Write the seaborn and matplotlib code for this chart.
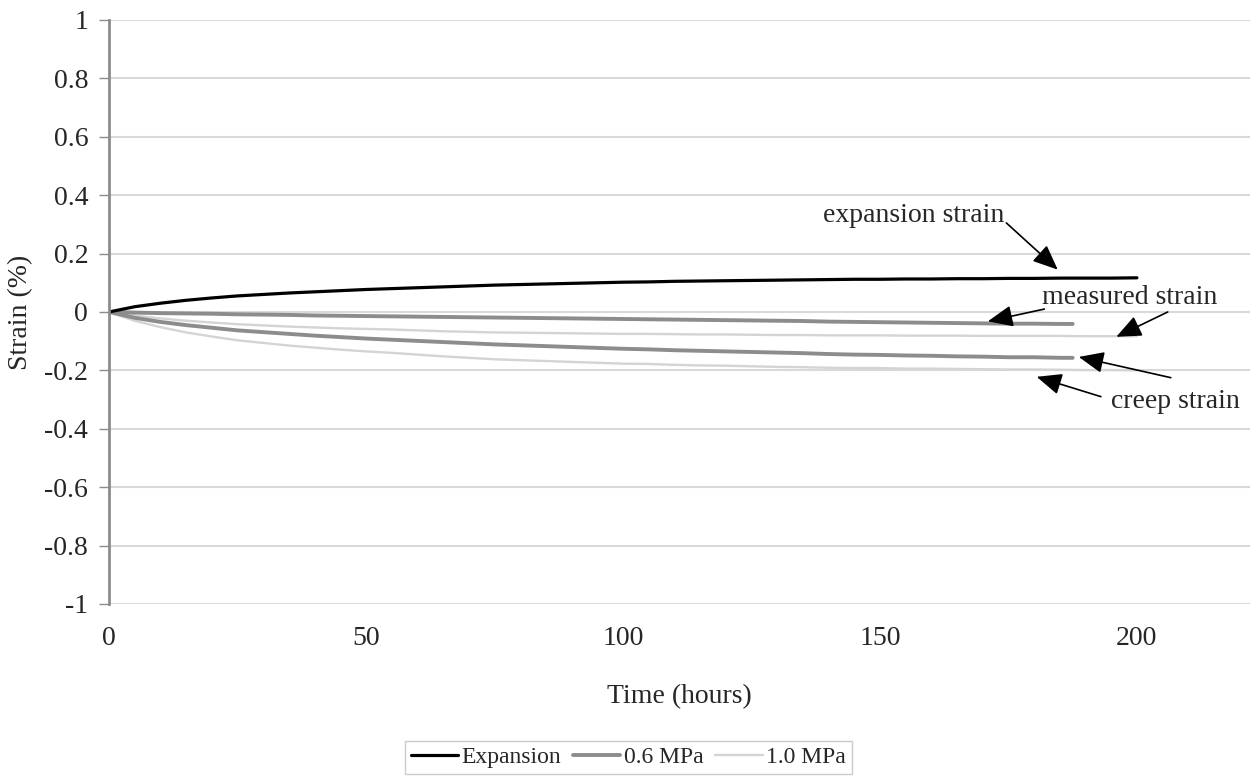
import pandas as pd
import numpy as np
import matplotlib
matplotlib.use("Agg")
import matplotlib.pyplot as plt
import seaborn as sns

# data (strain in %, time in hours)
t_long = [0, 5, 10, 15, 20, 25, 30, 35, 40, 45, 50, 55, 60, 65, 70, 75, 80, 85, 90, 95,
          100, 105, 110, 115, 120, 125, 130, 135, 140, 145, 150, 155, 160, 165, 170, 175,
          180, 185, 190, 195, 200]
t_short = [0, 5, 10, 15, 20, 25, 30, 35, 40, 45, 50, 55, 60, 65, 70, 75, 80, 85, 90, 95,
           100, 105, 110, 115, 120, 125, 130, 135, 140, 145, 150, 155, 160, 165, 170, 175,
           180, 185, 187.5]

expansion = [0, 0.018, 0.030, 0.040, 0.048, 0.055, 0.060, 0.065, 0.069, 0.073, 0.077,
             0.080, 0.083, 0.086, 0.089, 0.092, 0.094, 0.096, 0.098, 0.100, 0.102, 0.103,
             0.105, 0.106, 0.107, 0.108, 0.109, 0.110, 0.111, 0.112, 0.112, 0.113, 0.113,
             0.114, 0.114, 0.115, 0.115, 0.116, 0.116, 0.116, 0.117]

mpa06_measured = [0, -0.002, -0.004, -0.005, -0.006, -0.008, -0.009, -0.010, -0.012, -0.013,
                  -0.014, -0.015, -0.016, -0.017, -0.018, -0.019, -0.020, -0.021, -0.022,
                  -0.023, -0.024, -0.025, -0.026, -0.027, -0.028, -0.029, -0.030, -0.031,
                  -0.033, -0.034, -0.035, -0.036, -0.037, -0.038, -0.039, -0.040, -0.040,
                  -0.041, -0.041]
mpa06_creep = [0, -0.020, -0.034, -0.045, -0.054, -0.063, -0.069, -0.075, -0.081, -0.086,
               -0.091, -0.095, -0.099, -0.103, -0.107, -0.111, -0.114, -0.117, -0.120,
               -0.123, -0.126, -0.128, -0.131, -0.133, -0.135, -0.137, -0.139, -0.141,
               -0.144, -0.146, -0.147, -0.149, -0.150, -0.152, -0.153, -0.155, -0.155,
               -0.157, -0.157]

mpa10_measured = [0, -0.012, -0.022, -0.030, -0.036, -0.042, -0.046, -0.050, -0.053, -0.056,
                  -0.058, -0.060, -0.063, -0.066, -0.068, -0.070, -0.071, -0.072, -0.073,
                  -0.074, -0.075, -0.075, -0.076, -0.077, -0.077, -0.078, -0.079, -0.079,
                  -0.080, -0.080, -0.080, -0.081, -0.081, -0.081, -0.082, -0.082, -0.082,
                  -0.082, -0.083, -0.083, -0.083]
mpa10_creep = [0, -0.030, -0.052, -0.070, -0.084, -0.097, -0.106, -0.115, -0.122, -0.129,
               -0.135, -0.140, -0.146, -0.152, -0.157, -0.162, -0.165, -0.168, -0.171,
               -0.174, -0.177, -0.178, -0.181, -0.183, -0.184, -0.186, -0.188, -0.189,
               -0.191, -0.192, -0.192, -0.194, -0.194, -0.195, -0.196, -0.197, -0.197,
               -0.198, -0.199, -0.199, -0.200]

y_ticks = [1, 0.8, 0.6, 0.4, 0.2, 0, -0.2, -0.4, -0.6, -0.8, -1]
y_labels = ["1", "0.8", "0.6", "0.4", "0.2", "0", "-0.2", "-0.4", "-0.6", "-0.8", "-1"]
x_ticks = [0, 50, 100, 150, 200]

# long form table for seaborn
parts = [
    pd.DataFrame({"time": t_long, "strain": expansion, "series": "Expansion", "kind": "exp"}),
    pd.DataFrame({"time": t_short, "strain": mpa06_measured, "series": "0.6 MPa", "kind": "measured"}),
    pd.DataFrame({"time": t_short, "strain": mpa06_creep, "series": "0.6 MPa", "kind": "creep"}),
    pd.DataFrame({"time": t_long, "strain": mpa10_measured, "series": "1.0 MPa", "kind": "measured"}),
    pd.DataFrame({"time": t_long, "strain": mpa10_creep, "series": "1.0 MPa", "kind": "creep"}),
]
df = pd.concat(parts, ignore_index=True)

sns.set_theme(style="white")
plt.rcParams["font.family"] = ["Liberation Serif", "DejaVu Serif"]
plt.rcParams["font.size"] = 20

fig = plt.figure(figsize=(12.57, 7.78), dpi=100)
ax = fig.add_axes([0.0867, 0.2237, 0.9077, 0.7506])

palette = {"Expansion": "black", "0.6 MPa": "#8c8c8c", "1.0 MPa": "#d4d4d4"}
widths = {"Expansion": 2.3, "0.6 MPa": 2.8, "1.0 MPa": 1.7}

for name in ["1.0 MPa", "0.6 MPa", "Expansion"]:
    sub = df[df["series"] == name]
    sns.lineplot(data=sub, x="time", y="strain", units="kind", estimator=None,
                 color=palette[name], lw=widths[name], ax=ax, legend=False)

ax.set_xlim(0, 222)
ax.set_ylim(-1, 1)
ax.set_yticks(y_ticks)
ax.set_yticklabels(y_labels, fontsize=20)
ax.set_xticks(x_ticks)
ax.set_xticklabels([str(v) for v in x_ticks], fontsize=20)
ax.yaxis.grid(True, color="#d9d9d9", lw=1.5)
ax.xaxis.grid(False)
ax.set_axisbelow(True)
for s in ["top", "right", "bottom"]:
    ax.spines[s].set_visible(False)
ax.spines["left"].set_color("#8c8c8c")
ax.spines["left"].set_linewidth(2)
ax.tick_params(axis="y", length=7, width=1, color="#8c8c8c", pad=8, left=True)
ax.tick_params(axis="x", length=0, pad=16)

ax.set_ylabel("Strain (%)", fontsize=20, labelpad=8)
ax.set_xlabel("Time (hours)", fontsize=20, labelpad=24)

# annotations
arrow = dict(arrowstyle="-|>,head_length=0.7,head_width=0.3", color="black",
             lw=1.2, mutation_scale=22, shrinkA=0, shrinkB=0)
ax.text(138.9, 0.33, "expansion strain", ha="left", va="center", fontsize=20)
ax.annotate("", xy=(184.6, 0.145), xytext=(174.6, 0.305), arrowprops=arrow)

ax.text(181.5, 0.05, "measured strain", ha="left", va="center", fontsize=20, clip_on=False)
ax.annotate("", xy=(171, -0.032), xytext=(182, 0.01), arrowprops=arrow)
ax.annotate("", xy=(196, -0.085), xytext=(206, 0.0), arrowprops=arrow)

ax.text(194.9, -0.305, "creep strain", ha="left", va="center", fontsize=20, clip_on=False)
ax.annotate("", xy=(188.7, -0.154), xytext=(206.6, -0.225), arrowprops=arrow)
ax.annotate("", xy=(180.5, -0.222), xytext=(193, -0.29), arrowprops=arrow)

handles = [plt.Line2D([], [], color=palette[k], lw=widths[k]) for k in ["Expansion", "0.6 MPa", "1.0 MPa"]]
fig.legend(handles, ["Expansion", "0.6 MPa", "1.0 MPa"], loc="lower center",
           bbox_to_anchor=(0.5, 0.005), ncol=3, fontsize=17, frameon=True,
           fancybox=False, edgecolor="#bfbfbf", handlelength=2.0, handletextpad=0.15,
           columnspacing=0.5, borderpad=0.25, borderaxespad=0)

fig.savefig("out.png", dpi=100)
